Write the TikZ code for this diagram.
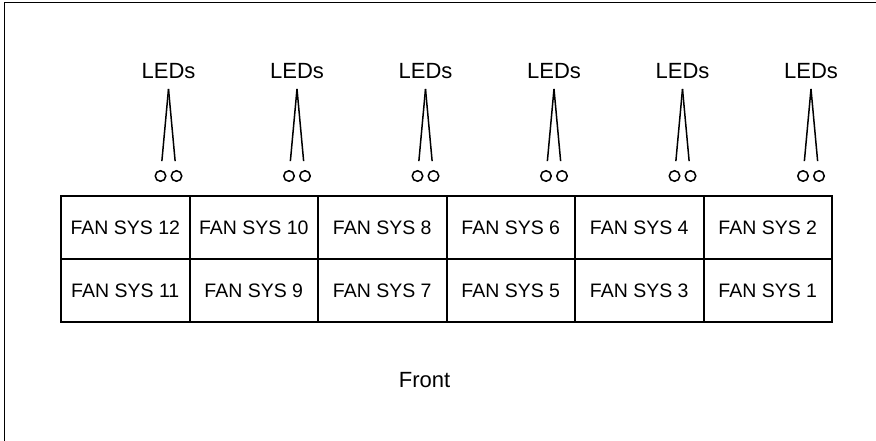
\documentclass[tikz,border=0pt]{standalone}
\usepackage{fontspec}
\setmainfont{Liberation Sans}
\usetikzlibrary{positioning}
\tikzset{
  frame/.style={draw=black,line width=1.5pt},
  ledlabel/.style={font=\fontsize{22}{25}\selectfont,anchor=base},
  fanlabel/.style={font=\fontsize{19.5}{22}\selectfont},
  fancell/.style={draw=black,line width=2pt,minimum width=128.5pt,minimum height=63pt,inner sep=0pt,fanlabel},
  ledlamp/.style={circle,draw=black,line width=1.5pt,minimum size=10.5pt,inner sep=0pt},
  leg/.style={draw=black,line width=1.5pt,shorten >=9pt}
}
\begin{document}
\begin{tikzpicture}[x=1pt,y=-1pt]
\path[use as bounding box] (0,0) rectangle (876,441);
\draw[frame] (876,2.5) -| (4.5,441);

% fan modules, upper row
\node[fancell] (f12) at (125.25,227.5) {FAN SYS 12};
\node[fancell] (f10) at (253.75,227.5) {FAN SYS 10};
\node[fancell] (f8) at (382.25,227.5) {FAN SYS 8};
\node[fancell] (f6) at (510.75,227.5) {FAN SYS 6};
\node[fancell] (f4) at (639.25,227.5) {FAN SYS 4};
\node[fancell] (f2) at (767.75,227.5) {FAN SYS 2};
% fan modules, lower row
\node[fancell] (f11) at (125.25,290.5) {FAN SYS 11};
\node[fancell] (f9) at (253.75,290.5) {FAN SYS 9};
\node[fancell] (f7) at (382.25,290.5) {FAN SYS 7};
\node[fancell] (f5) at (510.75,290.5) {FAN SYS 5};
\node[fancell] (f3) at (639.25,290.5) {FAN SYS 3};
\node[fancell] (f1) at (767.75,290.5) {FAN SYS 1};

% LED pairs
\node[ledlabel] (l12) at (168.5,79) {LEDs};
\coordinate (a12) at (168.5,89);
\node[ledlamp] (o12a) at (160.5,176) {}; \node[ledlamp] (o12b) at (176.5,176) {};
\draw[leg] (a12)--(o12a); \draw[leg] (a12)--(o12b);

\node[ledlabel] (l10) at (297,79) {LEDs};
\coordinate (a10) at (297,89);
\node[ledlamp] (o10a) at (289,176) {}; \node[ledlamp] (o10b) at (305,176) {};
\draw[leg] (a10)--(o10a); \draw[leg] (a10)--(o10b);

\node[ledlabel] (l8) at (425.5,79) {LEDs};
\coordinate (a8) at (425.5,89);
\node[ledlamp] (o8a) at (417.5,176) {}; \node[ledlamp] (o8b) at (433.5,176) {};
\draw[leg] (a8)--(o8a); \draw[leg] (a8)--(o8b);

\node[ledlabel] (l6) at (554,79) {LEDs};
\coordinate (a6) at (554,89);
\node[ledlamp] (o6a) at (546,176) {}; \node[ledlamp] (o6b) at (562,176) {};
\draw[leg] (a6)--(o6a); \draw[leg] (a6)--(o6b);

\node[ledlabel] (l4) at (682.5,79) {LEDs};
\coordinate (a4) at (682.5,89);
\node[ledlamp] (o4a) at (674.5,176) {}; \node[ledlamp] (o4b) at (690.5,176) {};
\draw[leg] (a4)--(o4a); \draw[leg] (a4)--(o4b);

\node[ledlabel] (l2) at (811,79) {LEDs};
\coordinate (a2) at (811,89);
\node[ledlamp] (o2a) at (803,176) {}; \node[ledlamp] (o2b) at (819,176) {};
\draw[leg] (a2)--(o2a); \draw[leg] (a2)--(o2b);

\node[ledlabel] (front) at (424.5,387) {Front};
\end{tikzpicture}
\end{document}
